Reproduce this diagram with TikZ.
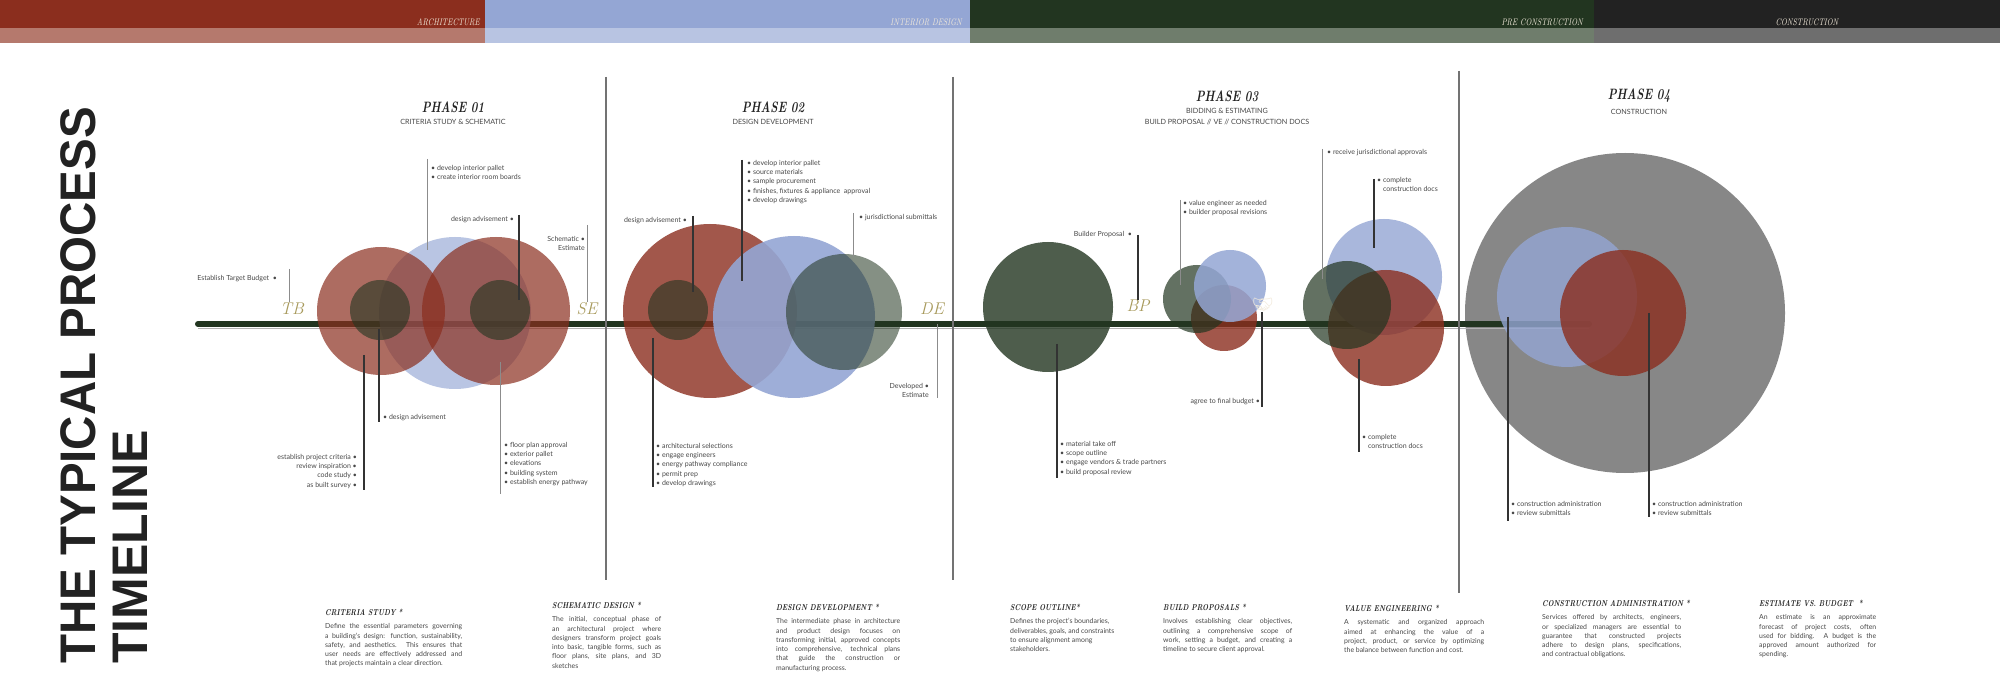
\documentclass[tikz,border=0pt]{standalone}
\usepackage{fontspec}
\usepackage{graphicx}
\setsansfont{Lato}
\newfontfamily\titlefont{Liberation Sans}
\newfontfamily\emojifont{Noto Emoji}
\usetikzlibrary{positioning}

\definecolor{rust}{HTML}{8B2E1E}
\definecolor{rustlt}{HTML}{B5796D}
\definecolor{sky}{HTML}{94A6D4}
\definecolor{skylt}{HTML}{B8C4E2}
\definecolor{forest}{HTML}{223520}
\definecolor{forestlt}{HTML}{6F7D6C}
\definecolor{ink}{HTML}{222222}
\definecolor{inklt}{HTML}{6E6E6E}
\definecolor{sand}{HTML}{A89A5C}
\definecolor{txt}{HTML}{484848}
\definecolor{cream}{HTML}{F1E9DA}

\tikzset{
  note/.style={font=\sffamily\fontsize{7}{9.3}\selectfont, text=txt, inner sep=0pt, align=left},
  noter/.style={note, align=right},
  lead/.style={draw=black!80, line width=1.1pt},
  leadg/.style={draw=black!45, line width=0.9pt},
  divider/.style={draw=black!55, line width=1.6pt},
  band/.style={font=\itshape\fontsize{9.5}{9.5}\selectfont, text=cream, inner sep=0pt},
  phase/.style={font=\bfseries\itshape\fontsize{15}{15}\selectfont, text=ink, inner sep=0pt},
  phasesub/.style={font=\sffamily\fontsize{7.2}{11}\selectfont, text=black!72, inner sep=0pt, align=center},
  milestone/.style={font=\itshape\fontsize{17}{17}\selectfont, text=sand, inner sep=0pt},
  desctitle/.style={font=\bfseries\itshape\fontsize{8.5}{8.5}\selectfont, text=ink, inner sep=0pt, anchor=west},
  descbody/.style={font=\sffamily\fontsize{6.9}{9.3}\selectfont, text=txt, inner sep=0pt, align=justify}
}

\begin{document}
\begin{tikzpicture}[x=1pt, y=-1pt]
\useasboundingbox (0,0) rectangle (2000,700);
\fill[white] (0,0) rectangle (2000,700);

\fill[rust] (0,0) rectangle (485,28);
\fill[rustlt] (0,28) rectangle (485,43);
\fill[sky] (485,0) rectangle (970,28);
\fill[skylt] (485,28) rectangle (970,43);
\fill[forest] (970,0) rectangle (1594,28);
\fill[forestlt] (970,28) rectangle (1594,43);
\fill[ink] (1594,0) rectangle (2000,28);
\fill[inklt] (1594,28) rectangle (2000,43);
\node[band, anchor=base east] (arch) at (480,25.5) {\scalebox{.8}[1]{ARCHITECTURE}};
\node[band, anchor=base east] (interior) at (962,25.5) {\scalebox{.8}[1]{INTERIOR DESIGN}};
\node[band, anchor=base east] (precon) at (1583,25.5) {\scalebox{.8}[1]{PRE CONSTRUCTION}};
\node[band, anchor=base] (constr) at (1807,25.5) {\scalebox{.8}[1]{CONSTRUCTION}};

\node[rotate=90, anchor=base west, inner sep=0pt, text=ink, font=\titlefont\bfseries\fontsize{50}{50}\selectfont] (title) at (95,664) {\scalebox{.95}[1]{THE TYPICAL PROCESS}};
\node[rotate=90, anchor=base west, inner sep=0pt, text=ink, font=\titlefont\bfseries\fontsize{50}{50}\selectfont] (title2) at (147,664) {TIMELINE};

\fill[black!47] (1625,313) circle[radius=160];
\coordinate (tl-start) at (198,324);
\coordinate (tl-end) at (1589,324);
\draw[black!30, line width=0.8pt] ([yshift=-4.5pt]tl-start) -- ([yshift=-4.5pt]tl-end);
\draw[forest, line width=6pt, line cap=round] (tl-start) -- (tl-end);

\foreach \col/\op/\x/\y/\rad in {sky/.65/455/313/76, rust/.7/381/311/64, rust/.7/496/311/74, forest/.6/380/310/30, forest/.6/500/310/30,
  rust/.8/710/311/87, forest/.6/678/310/30, sky/.9/794/317/81, forest/.55/844/312/58,
  forest/.8/1048/307/65, rust/.8/1224/318/33, forest/.7/1197/299/34, sky/.85/1230/286/36,
  sky/.8/1384/277/58, rust/.8/1386/328/58, forest/.7/1347/305/44,
  sky/.8/1567/297/70, rust/.8/1623/313/63}
  \fill[\col, fill opacity=\op] (\x,\y) circle[radius=\rad];

\node[text=cream, font=\emojifont\fontsize{17}{17}\selectfont, inner sep=0pt] (deal) at (1263,305) {🤝};

\foreach \n/\x/\ya/\yb in {d1/606/77/580, d2/953/77/580, d3/1459/71/593} {
  \coordinate (\n-t) at (\x,\ya);
  \coordinate (\n-b) at (\x,\yb);
  \draw[divider] (\n-t) -- (\n-b);
}

\node[phase] (ph1) at (453,107) {\scalebox{.75}[1]{PHASE 01}};
\node[phasesub, below=6pt of ph1] (ph1sub) {CRITERIA STUDY \& SCHEMATIC};
\node[phase] (ph2) at (773,107) {\scalebox{.75}[1]{PHASE 02}};
\node[phasesub, below=6pt of ph2] (ph2sub) {DESIGN DEVELOPMENT};
\node[phase] (ph3) at (1227,96) {\scalebox{.75}[1]{PHASE 03}};
\node[phasesub, below=6pt of ph3] (ph3sub) {BIDDING \& ESTIMATING\\BUILD PROPOSAL // VE // CONSTRUCTION DOCS};
\node[phase] (ph4) at (1639,96) {\scalebox{.75}[1]{PHASE 04}};
\node[phasesub, below=6pt of ph4] (ph4sub) {CONSTRUCTION};

\node[milestone] (tb) at (292,309) {TB};
\node[milestone] (se) at (587,309) {SE};
\node[milestone] (de) at (932,309) {DE};
\node[milestone] (bp) at (1138,306) {BP};

\node[note, anchor=north west] (p1pallet) at (431,165) {• develop interior pallet\\• create interior room boards};
\node[noter, anchor=north east] (p1adv) at (514,216) {design advisement •};
\node[noter, anchor=north east] (p1est) at (585,236) {Schematic •\\Estimate\hspace{3pt}};
\node[noter, anchor=north east] (tbnote) at (277,275) {Establish Target Budget \ •};
\node[noter, anchor=north east] (p1crit) at (357,454) {establish project criteria •\\review inspiration •\\code study •\\as built survey •};
\node[note, anchor=north west] (p1adv2) at (383,414) {• design advisement};
\node[note, anchor=north west] (p1floor) at (504,442) {• floor plan approval\\• exterior pallet\\• elevations\\• building system\\• establish energy pathway};

\node[note, anchor=north west] (p2pallet) at (747,160) {• develop interior pallet\\• source materials\\• sample procurement\\• finishes, fixtures \& appliance \ approval\\• develop drawings};
\node[noter, anchor=north east] (p2adv) at (687,217) {design advisement •};
\node[note, anchor=north west] (p2jur) at (859,214) {• jurisdictional submittals};
\node[noter, anchor=north east] (p2est) at (929,383) {Developed •\\Estimate\hspace{3pt}};
\node[note, anchor=north west] (p2arch) at (656,443) {• architectural selections\\• engage engineers\\• energy pathway compliance\\• permit prep\\• develop drawings};

\node[noter, anchor=north east] (p3bp) at (1132,231) {Builder Proposal \ •};
\node[note, anchor=north west] (p3ve) at (1183,200) {• value engineer as needed\\• builder proposal revisions};
\node[noter, anchor=north east] (p3agree) at (1260,398) {agree to final budget •};
\node[note, anchor=north west] (p3rec) at (1327,149) {• receive jurisdictional approvals};
\node[note, anchor=north west] (p3cd) at (1377,177) {• complete\\\phantom{• }construction docs};
\node[note, anchor=north west] (p3mat) at (1060,441) {• material take off\\• scope outline\\• engage vendors \& trade partners\\• build proposal review};
\node[note, anchor=north west] (p3cd2) at (1362,434) {• complete\\\phantom{• }construction docs};

\node[note, anchor=north west] (p4ca) at (1511,501) {• construction administration\\• review submittals};
\node[note, anchor=north west] (p4cb) at (1652,501) {• construction administration\\• review submittals};

\foreach \n/\x/\ya/\yb in {adv1/519/215/300, crit/364/355/490, adv2/379/329/422, pal2/742/160/281, adv3/693/216/292,
  arch2/653/338/487, bpl/1138/235/300, agree/1262/312/407, cd1/1374/179/248, mat/1057/344/478, cd2/1359/359/452,
  ca1/1508/317/521, ca2/1649/313/517} {
  \coordinate (\n-t) at (\x,\ya);
  \coordinate (\n-b) at (\x,\yb);
  \draw[lead] (\n-t) -- (\n-b);
}
\foreach \n/\x/\ya/\yb in {tbl/289/269/302, pal1/427/159/250, sel/587/225/302, jur/853/213/257, del/937/324/398,
  ve/1180/200/285, rec/1322/149/279, floor/500/362/494} {
  \coordinate (\n-t) at (\x,\ya);
  \coordinate (\n-b) at (\x,\yb);
  \draw[leadg] (\n-t) -- (\n-b);
}

\node[desctitle] (crit) at (325,612) {\scalebox{.8}[1]{CRITERIA STUDY *}};
\node[descbody, text width=137pt, below=8pt of crit.south west, anchor=north west] (crittxt) {Define the essential parameters governing\linebreak a building's design: function, sustainability,\linebreak safety, and aesthetics. This ensures that\linebreak user needs are effectively addressed and\linebreak that projects maintain a clear direction.};
\node[desctitle] (schem) at (552,605) {\scalebox{.8}[1]{SCHEMATIC DESIGN *}};
\node[descbody, text width=109pt, below=8pt of schem.south west, anchor=north west] (schemtxt) {The initial, conceptual phase of\linebreak an architectural project where\linebreak designers transform project goals\linebreak into basic, tangible forms, such as\linebreak floor plans, site plans, and 3D\linebreak sketches};
\node[desctitle] (devel) at (776,607) {\scalebox{.8}[1]{DESIGN DEVELOPMENT *}};
\node[descbody, text width=124pt, below=8pt of devel.south west, anchor=north west] (develtxt) {The intermediate phase in architecture\linebreak and product design focuses on\linebreak transforming initial, approved concepts\linebreak into comprehensive, technical plans\linebreak that guide the construction or\linebreak manufacturing process.};
\node[desctitle] (scope) at (1010,607) {\scalebox{.8}[1]{SCOPE OUTLINE*}};
\node[descbody, align=left, below=8pt of scope.south west, anchor=north west] (scopetxt) {Defines the project's boundaries,\\deliverables, goals, and constraints\\to ensure alignment among\\stakeholders.};
\node[desctitle] (build) at (1163,607) {\scalebox{.8}[1]{BUILD PROPOSALS *}};
\node[descbody, text width=129pt, below=8pt of build.south west, anchor=north west] (buildtxt) {Involves establishing clear objectives,\linebreak outlining a comprehensive scope of\linebreak work, setting a budget, and creating a\linebreak timeline to secure client approval.};
\node[desctitle] (value) at (1344,608) {\scalebox{.8}[1]{VALUE ENGINEERING *}};
\node[descbody, text width=140pt, below=8pt of value.south west, anchor=north west] (valuetxt) {A systematic and organized approach\linebreak aimed at enhancing the value of a\linebreak project, product, or service by optimizing\linebreak the balance between function and cost.};
\node[desctitle] (admin) at (1542,603) {\scalebox{.8}[1]{CONSTRUCTION ADMINISTRATION *}};
\node[descbody, text width=139pt, below=8pt of admin.south west, anchor=north west] (admintxt) {Services offered by architects, engineers,\linebreak or specialized managers are essential to\linebreak guarantee that constructed projects\linebreak adhere to design plans, specifications,\linebreak and contractual obligations.};
\node[desctitle] (budget) at (1759,603) {\scalebox{.8}[1]{ESTIMATE VS. BUDGET \ *}};
\node[descbody, text width=117pt, below=8pt of budget.south west, anchor=north west] (budgettxt) {An estimate is an approximate\linebreak forecast of project costs, often\linebreak used for bidding. A budget is the\linebreak approved amount authorized for\linebreak spending.};
\end{tikzpicture}
\end{document}
